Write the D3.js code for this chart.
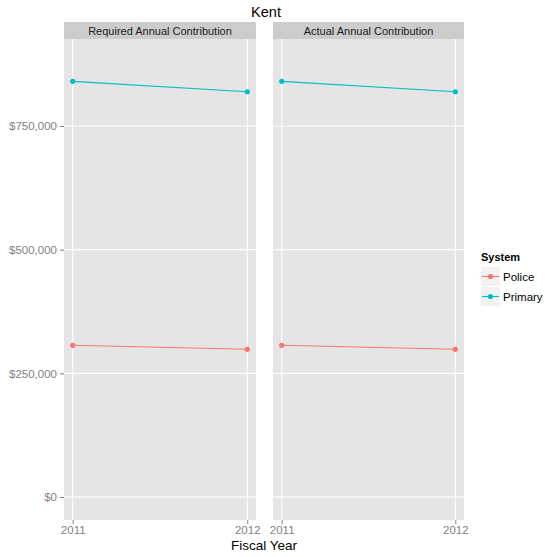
<!DOCTYPE html>
<html><head><meta charset="utf-8">
<script src="https://cdn.jsdelivr.net/npm/d3@7"></script>
<style>body{margin:0;background:#fff}svg{display:block}text{font-family:"Liberation Sans",Arial,sans-serif}</style>
</head><body><svg id="c" width="546" height="557"></svg>
<script>
const facets = ["Required Annual Contribution", "Actual Annual Contribution"];
const years = [2011, 2012];
const systems = ["Police", "Primary"];
const colors = ["#F8766D", "#00BFC4"];
const required = { Police: [306700, 298600], Primary: [840300, 819300] };
const actual = { Police: [306700, 298600], Primary: [840300, 819300] };
const seriesByFacet = [required, actual];
const yTicks = [0, 250000, 500000, 750000];

const svg = d3.select("#c");
const panelTop = 39, panelBottom = 520, stripTop = 22;
const panelX = [[64, 256], [273, 464]];
const y = d3.scaleLinear().domain([-46500, 925900]).range([panelBottom, panelTop]);
const fmt = v => "$" + d3.format(",")(v);

svg.append("text").attr("x", 266).attr("y", 17).attr("text-anchor", "middle")
  .attr("font-size", 14.5).attr("fill", "#000").text("Kent");

facets.forEach((f, i) => {
  const [x0, x1] = panelX[i];
  const x = d3.scaleLinear().domain([2011 - 0.05, 2012 + 0.05]).range([x0, x1]);
  const g = svg.append("g");
  g.append("rect").attr("x", x0).attr("y", stripTop).attr("width", x1 - x0).attr("height", panelTop - stripTop).attr("fill", "#cccccc");
  g.append("text").attr("x", (x0 + x1) / 2).attr("y", stripTop + 12.5).attr("text-anchor", "middle")
    .attr("font-size", 11).attr("fill", "#1a1a1a").text(f);
  g.append("rect").attr("x", x0).attr("y", panelTop).attr("width", x1 - x0).attr("height", panelBottom - panelTop).attr("fill", "#e5e5e5");
  g.selectAll(".hg").data(yTicks).join("line")
    .attr("x1", x0).attr("x2", x1).attr("y1", d => y(d)).attr("y2", d => y(d))
    .attr("stroke", "#fff").attr("stroke-width", 1.1);
  g.selectAll(".vg").data(years).join("line")
    .attr("x1", d => x(d)).attr("x2", d => x(d)).attr("y1", panelTop).attr("y2", panelBottom)
    .attr("stroke", "#fff").attr("stroke-width", 1.1);
  const xa = d3.axisBottom(x).tickValues(years).tickFormat(d3.format("d")).tickSize(4).tickPadding(2);
  const xg = svg.append("g").attr("transform", `translate(0,${panelBottom})`).call(xa);
  xg.select(".domain").remove();
  xg.selectAll("line").attr("stroke", "#7f7f7f");
  xg.selectAll("text").attr("fill", "#7f7f7f").attr("font-size", 11.5).style("font-family", '"Liberation Sans",Arial,sans-serif');
  if (i === 0) {
    const ya = d3.axisLeft(y).tickValues(yTicks).tickFormat(fmt).tickSize(4).tickPadding(3);
    const yg = svg.append("g").attr("transform", `translate(${x0},0)`).call(ya);
    yg.select(".domain").remove();
    yg.selectAll("line").attr("stroke", "#7f7f7f");
    yg.selectAll("text").attr("fill", "#7f7f7f").attr("font-size", 11.5).style("font-family", '"Liberation Sans",Arial,sans-serif');
  }
  const data = seriesByFacet[i];
  systems.forEach((s, k) => {
    const pts = years.map((yr, j) => [yr, data[s][j]]);
    g.append("path").datum(pts).attr("fill", "none").attr("stroke", colors[k]).attr("stroke-width", 1.1)
      .attr("d", d3.line().x(d => x(d[0])).y(d => y(d[1])));
    g.selectAll(null).data(pts).join("circle").attr("cx", d => x(d[0])).attr("cy", d => y(d[1]))
      .attr("r", 2.6).attr("fill", colors[k]);
  });
});

svg.append("text").attr("x", 264).attr("y", 550).attr("text-anchor", "middle")
  .attr("font-size", 13.5).attr("fill", "#000").text("Fiscal Year");

const lg = svg.append("g");
lg.append("text").attr("x", 481).attr("y", 261).attr("font-size", 11).attr("font-weight", "bold").text("System");
systems.forEach((s, k) => {
  const ky = 267 + k * 20;
  lg.append("rect").attr("x", 481).attr("y", ky).attr("width", 19).attr("height", 19).attr("fill", "#f2f2f2");
  lg.append("line").attr("x1", 482).attr("x2", 499).attr("y1", ky + 9.5).attr("y2", ky + 9.5).attr("stroke", colors[k]).attr("stroke-width", 1.1);
  lg.append("circle").attr("cx", 490.5).attr("cy", ky + 9.5).attr("r", 2.6).attr("fill", colors[k]);
  lg.append("text").attr("x", 503).attr("y", ky + 13.5).attr("font-size", 11.5).attr("fill", "#000").text(s);
});
</script></body></html>
